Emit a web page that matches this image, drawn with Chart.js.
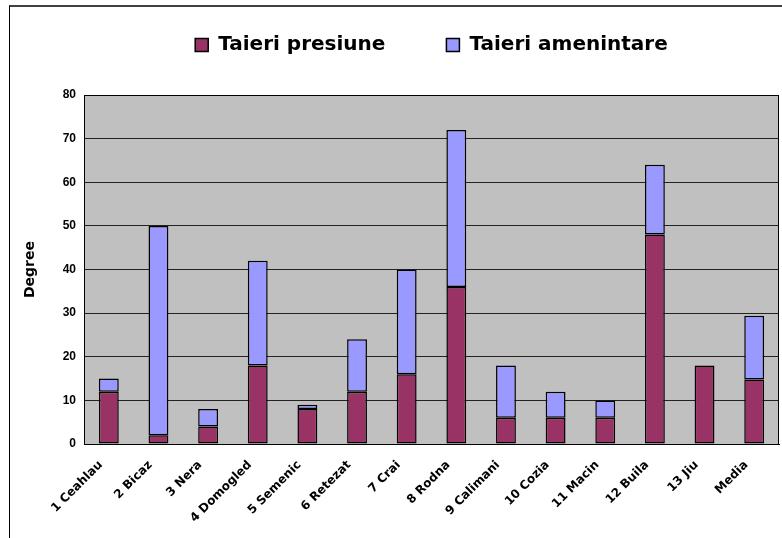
<!DOCTYPE html>
<html>
<head>
<meta charset="utf-8">
<script src="https://cdn.jsdelivr.net/npm/chart.js@4"></script>
<style>
  body { margin: 0; background: #fff; overflow: hidden; }
  #frame { position: absolute; left: 9px; top: 5px; width: 900px; height: 700px;
           border-top: 2px solid #404040; border-left: 1px solid #000; }
  #wrap { position: absolute; left: 0; top: -26px; width: 782px; height: 564px; }
</style>
</head>
<body>
<div id="frame"></div>
<div id="wrap"><canvas id="chart"></canvas></div>
<script>
// data
const categories = ["1 Ceahlau", "2 Bicaz", "3 Nera", "4 Domogled", "5 Semenic", "6 Retezat", "7 Crai",
                    "8 Rodna", "9 Calimani", "10 Cozia", "11 Macin", "12 Buila", "13 Jiu", "Media"];
const presiune   = [12, 2, 4, 18, 8, 12, 16, 36, 6, 6, 6, 48, 18, 14.8];
const amenintare = [3, 48, 4, 24, 1, 12, 24, 36, 12, 6, 4, 16, 0, 14.6];
const yTicks = [0, 10, 20, 30, 40, 50, 60, 70, 80];

// grey plot area with a black frame, fixed legend height
const plotArea = {
  id: 'plotArea',
  beforeInit(chart) {
    const fit = chart.legend.fit;
    chart.legend.fit = function () {
      fit.call(this);
      this.height = 121;
    };
  },
  beforeDraw(chart) {
    const a = chart.chartArea, ctx = chart.ctx;
    ctx.save();
    ctx.fillStyle = '#c0c0c0';
    ctx.fillRect(a.left, a.top, a.right - a.left, a.bottom - a.top);
    ctx.restore();
  },
  afterDraw(chart) {
    const a = chart.chartArea, ctx = chart.ctx;
    ctx.save();
    ctx.strokeStyle = '#000';
    ctx.lineWidth = 1;
    ctx.strokeRect(a.left + 0.5, a.top + 0.5, a.right - a.left - 1, a.bottom - a.top);
    ctx.restore();
  }
};

new Chart(document.getElementById('chart'), {
  type: 'bar',
  data: {
    labels: categories,
    datasets: [{
      label: 'Taieri presiune',
      data: presiune,
      backgroundColor: '#993366',
      borderColor: '#000',
      borderWidth: 1.5,
      borderSkipped: false,
      inflateAmount: 0
    }, {
      label: 'Taieri amenintare',
      data: amenintare,
      backgroundColor: '#9999ff',
      borderColor: '#000',
      borderWidth: 1.5,
      borderSkipped: false,
      inflateAmount: 0
    }]
  },
  options: {
    responsive: true,
    maintainAspectRatio: false,
    animation: false,
    categoryPercentage: 1,
    barPercentage: 0.4,
    layout: { padding: { left: 18, right: 3, top: 0, bottom: 0 } },
    plugins: {
      tooltip: { enabled: false },
      legend: {
        position: 'top',
        fullSize: false,
        labels: {
          color: '#000',
          boxWidth: 13,
          boxHeight: 13,
          padding: 61,
          font: { family: 'DejaVu Sans', weight: 'bold', size: 20 }
        }
      }
    },
    scales: {
      x: {
        stacked: true,
        grid: { display: false },
        border: { color: '#000' },
        afterFit: scale => { scale.height = 94; },
        ticks: {
          color: '#000',
          maxRotation: 45,
          minRotation: 45,
          padding: 6,
          labelOffset: -8,
          font: { family: 'DejaVu Sans', weight: 'bold', size: 12 }
        }
      },
      y: {
        stacked: true,
        min: 0,
        max: 80,
        afterFit: scale => { scale.width = 66; },
        afterBuildTicks: scale => { scale.ticks = yTicks.map(v => ({ value: v })); },
        grid: { color: '#222', drawTicks: false },
        border: { color: '#000' },
        ticks: {
          color: '#000',
          padding: 8,
          font: { family: 'Liberation Sans', weight: 'bold', size: 12 }
        },
        title: {
          display: true,
          text: 'Degree',
          color: '#000',
          font: { family: 'DejaVu Sans', weight: 'bold', size: 14 }
        }
      }
    }
  },
  plugins: [plotArea]
});
</script>
</body>
</html>
